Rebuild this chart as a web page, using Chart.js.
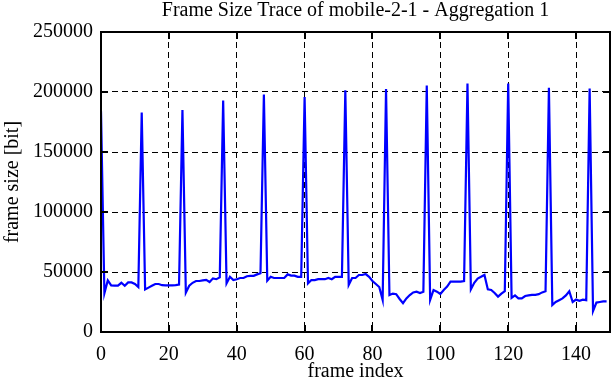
<!DOCTYPE html>
<html>
<head>
<meta charset="utf-8">
<script src="https://cdn.jsdelivr.net/npm/chart.js@4/dist/chart.umd.min.js"></script>
<style>
  html, body { margin: 0; padding: 0; background: #ffffff; }
  #wrap { width: 612px; height: 382px; }
</style>
</head>
<body>
<div id="wrap"><canvas id="c" width="612" height="382"></canvas></div>
<script>
// ---- data ----
const chartTitle = "Frame Size Trace of mobile-2-1 - Aggregation 1";
const xAxisTitle = "frame index";
const yAxisTitle = "frame size [bit]";
const xTickValues = [0, 20, 40, 60, 80, 100, 120, 140];
const yTickValues = [0, 50000, 100000, 150000, 200000, 250000];
const frameIndex = Array.from({length: 150}, (_, i) => i);
const frameSize = [
  184000, 32300, 43000, 38800, 38600, 38600, 41000, 38500, 41300, 41300,
  40000, 37500, 182800, 35500, 37000, 38500, 40000, 40000, 39000, 38800,
  38800, 38800, 39000, 39500, 185000, 32800, 38500, 41000, 42500, 42500,
  43000, 43500, 41700, 44700, 44000, 45500, 192800, 40500, 46000, 43300,
  44000, 45000, 45000, 46500, 46800, 46800, 48000, 49000, 197800, 42800,
  46000, 45000, 45000, 45000, 45000, 48000, 47000, 47000, 46000, 46000,
  195800, 40500, 43300, 43300, 44000, 44000, 44000, 45000, 44000, 46000,
  46000, 46000, 201400, 39200, 45000, 45000, 47500, 47500, 48300, 46000,
  42500, 40000, 37500, 26700, 202500, 30800, 32000, 31500, 27500, 24000,
  28000, 30800, 33000, 33600, 32500, 33500, 205300, 26700, 35000, 33600,
  31700, 35000, 37800, 42000, 42000, 42000, 42000, 42500, 207000, 35500,
  41000, 44500, 46000, 47500, 35500, 35000, 32500, 29500, 32000, 34000,
  207000, 28500, 30500, 28000, 28000, 30000, 30500, 31000, 31000, 31500,
  33000, 34000, 203600, 22500, 25000, 26500, 28000, 30500, 34000, 25000,
  27000, 26000, 27000, 26500, 202800, 17500, 24500, 25000, 25500, 25500
];
const xMin = 0, xMax = 150, yMin = 0, yMax = 250000;

const FONT = "'Liberation Serif', 'Times New Roman', serif";

// inward tick marks and full frame
const framePlugin = {
  id: 'frame',
  afterDatasetsDraw(chart) {
    const {ctx, chartArea: a, scales} = chart;
    const xs = scales.x, ys = scales.y;
    const L = 7;
    ctx.save();
    ctx.strokeStyle = '#000';
    ctx.lineWidth = 2;
    ctx.beginPath();
    xTickValues.forEach(v => {
      const px = Math.round(xs.getPixelForValue(v));
      ctx.moveTo(px, a.bottom); ctx.lineTo(px, a.bottom - L);
      ctx.moveTo(px, a.top); ctx.lineTo(px, a.top + L);
    });
    yTickValues.forEach(v => {
      const py = Math.round(ys.getPixelForValue(v));
      ctx.moveTo(a.left, py); ctx.lineTo(a.left + L, py);
      ctx.moveTo(a.right, py); ctx.lineTo(a.right - L, py);
    });
    ctx.stroke();
    ctx.strokeRect(a.left, a.top, a.right - a.left, a.bottom - a.top);
    ctx.restore();
  }
};

new Chart(document.getElementById('c'), {
  type: 'line',
  data: {
    datasets: [{
      data: frameIndex.map((x, i) => ({x: x, y: frameSize[i]})),
      borderColor: '#0000ff',
      borderWidth: 2.2,
      pointRadius: 0,
      tension: 0,
      fill: false
    }]
  },
  options: {
    responsive: false,
    animation: false,
    devicePixelRatio: 1,
    layout: { padding: { left: 0, right: 2, top: 0, bottom: 0 } },
    plugins: {
      legend: { display: false },
      tooltip: { enabled: false },
      title: {
        display: true,
        text: chartTitle,
        fullSize: false,
        color: '#000',
        font: { family: FONT, size: 20, weight: 'normal', lineHeight: 1 },
        padding: { top: 0.5, bottom: 11.5 }
      }
    },
    scales: {
      x: {
        type: 'linear',
        min: xMin, max: xMax,
        afterBuildTicks(scale) { scale.ticks = xTickValues.map(v => ({value: v})); },
        afterFit(scale) { scale.height = 50; },
        ticks: { color: '#000', font: { family: FONT, size: 20 }, padding: 11, maxRotation: 0,
                 callback: v => String(v) },
        grid: { color: '#000', lineWidth: 1, drawTicks: false },
        border: { display: true, color: '#000', width: 2, dash: [6, 4] },
        title: { display: true, text: xAxisTitle, color: '#000', font: { family: FONT, size: 20, lineHeight: 1 }, padding: { top: 0, bottom: 0 } }
      },
      y: {
        type: 'linear',
        min: yMin, max: yMax,
        afterBuildTicks(scale) { scale.ticks = yTickValues.map(v => ({value: v})); },
        afterFit(scale) { scale.width = 101; },
        ticks: { color: '#000', font: { family: FONT, size: 20 }, padding: 8,
                 callback: v => String(v) },
        grid: { color: '#000', lineWidth: 1, drawTicks: false },
        border: { display: true, color: '#000', width: 2, dash: [6, 4] },
        title: { display: true, text: yAxisTitle, color: '#000', font: { family: FONT, size: 20, lineHeight: 1 }, padding: { top: 3, bottom: 0 } }
      }
    }
  },
  plugins: [framePlugin]
});
</script>
</body>
</html>
